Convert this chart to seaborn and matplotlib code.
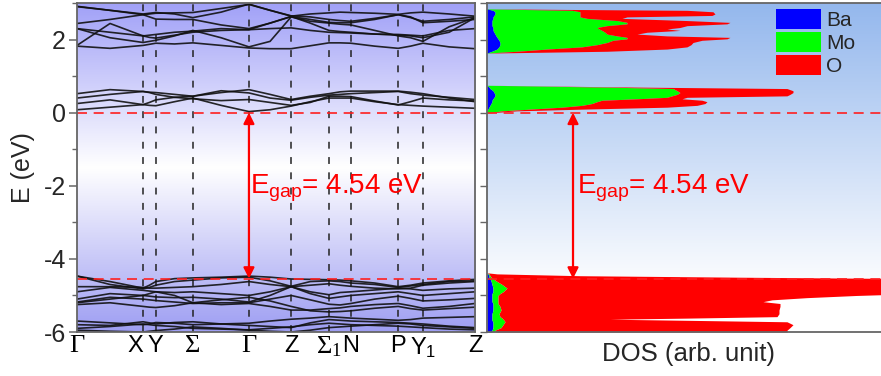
import numpy as np
import pandas as pd
import matplotlib
matplotlib.use("Agg")
import matplotlib.pyplot as plt
import seaborn as sns
from matplotlib.patches import Patch
from matplotlib.colors import LinearSegmentedColormap
from matplotlib.ticker import MultipleLocator

# ---------------- data ----------------
kpath_pos = [0.0, 0.166, 0.198, 0.291, 0.432, 0.538, 0.633, 0.688, 0.807, 0.869, 1.0]
kpath_labels = ["Γ", "X", "Y", "Σ", "Γ", "Z", r"$\mathregular{Σ_1}$", "N", "P", r"$\mathregular{Y_1}$", "Z"]
kpath_serif = [True, False, False, True, True, False, True, False, False, False, False]
kpath_ha = ["center", "right", "center", "center", "center", "center", "center", "center", "center", "center", "center"]

k_grid = [0.000, 0.083, 0.166, 0.182, 0.198, 0.245, 0.291, 0.362, 0.432, 0.485, 0.538,
          0.586, 0.633, 0.661, 0.688, 0.748, 0.807, 0.838, 0.869, 0.935, 1.000]

# conduction bands (upper manifold)
c1 = [1.82, 1.76, 1.84, 1.87, 1.90, 1.88, 1.91, 1.84, 1.77, 1.75, 1.75, 1.83, 1.91, 1.91, 1.90, 1.82, 1.76, 1.82, 1.90, 1.80, 1.75]
c2 = [1.84, 2.44, 2.10, 2.06, 2.04, 2.12, 2.20, 2.25, 2.27, 2.30, 2.32, 2.25, 2.20, 2.19, 2.18, 2.15, 2.14, 2.12, 2.10, 2.25, 2.30]
c3 = [2.30, 2.05, 1.92, 1.95, 1.98, 2.10, 2.25, 2.05, 1.80, 1.95, 2.62, 2.50, 2.45, 2.42, 2.40, 2.25, 2.10, 2.05, 1.95, 2.35, 2.60]
c4 = [2.30, 2.20, 2.10, 2.12, 2.14, 2.20, 2.23, 2.30, 2.27, 2.45, 2.63, 2.45, 2.25, 2.22, 2.20, 2.15, 2.12, 2.10, 2.05, 2.20, 2.60]
c5 = [2.44, 2.55, 2.68, 2.62, 2.56, 2.55, 2.55, 2.40, 2.30, 2.45, 2.63, 2.55, 2.47, 2.46, 2.46, 2.55, 2.68, 2.62, 2.46, 2.50, 2.55]
c6 = [2.90, 2.80, 2.68, 2.70, 2.72, 2.73, 2.74, 2.85, 2.96, 2.80, 2.64, 2.70, 2.73, 2.75, 2.74, 2.72, 2.69, 2.73, 2.75, 2.70, 2.64]
c7 = [2.91, 2.80, 2.70, 2.72, 2.74, 2.70, 2.60, 2.75, 2.97, 2.80, 2.65, 2.62, 2.55, 2.52, 2.50, 2.58, 2.68, 2.60, 2.50, 2.55, 2.62]
# bands just above the gap
n1 = [0.08, 0.15, 0.22, 0.20, 0.19, 0.30, 0.40, 0.20, 0.03, 0.08, 0.18, 0.30, 0.40, 0.40, 0.40, 0.30, 0.22, 0.20, 0.18, 0.15, 0.12]
n2 = [0.25, 0.35, 0.22, 0.28, 0.35, 0.42, 0.38, 0.33, 0.36, 0.28, 0.20, 0.28, 0.45, 0.45, 0.44, 0.32, 0.21, 0.30, 0.40, 0.35, 0.32]
n3 = [0.40, 0.50, 0.58, 0.55, 0.50, 0.42, 0.45, 0.60, 0.54, 0.40, 0.34, 0.42, 0.48, 0.50, 0.52, 0.55, 0.58, 0.52, 0.48, 0.42, 0.36]
n4 = [0.52, 0.63, 0.58, 0.56, 0.55, 0.50, 0.45, 0.55, 0.63, 0.50, 0.36, 0.45, 0.52, 0.57, 0.59, 0.59, 0.59, 0.56, 0.52, 0.40, 0.30]
# valence bands
w1 = [-4.47, -4.62, -4.80, -4.72, -4.62, -4.54, -4.52, -4.50, -4.47, -4.50, -4.55, -4.56, -4.57, -4.58, -4.60, -4.66, -4.76, -4.72, -4.66, -4.60, -4.56]
w2 = [-4.47, -4.70, -4.82, -4.78, -4.72, -4.62, -4.58, -4.52, -4.50, -4.60, -4.75, -4.62, -4.60, -4.62, -4.66, -4.70, -4.78, -4.74, -4.70, -4.62, -4.60]
w3 = [-4.76, -4.76, -4.78, -4.80, -4.80, -4.78, -4.76, -4.70, -4.62, -4.70, -4.76, -4.72, -4.68, -4.72, -4.75, -4.80, -4.82, -4.80, -4.72, -4.66, -4.62]
w4 = [-4.90, -4.78, -4.86, -4.88, -4.90, -4.92, -4.90, -4.95, -5.00, -4.90, -4.76, -4.90, -4.98, -4.92, -4.90, -4.85, -4.80, -4.82, -4.86, -4.82, -4.80]
w5 = [-5.10, -4.95, -5.00, -5.02, -5.04, -5.06, -5.05, -5.10, -5.18, -5.00, -4.76, -4.95, -5.08, -5.04, -5.00, -4.95, -4.90, -4.95, -5.00, -4.95, -4.90]
w6 = [-5.18, -5.05, -5.10, -5.12, -5.14, -5.18, -5.22, -5.20, -5.20, -5.10, -5.00, -5.12, -5.24, -5.26, -5.22, -5.10, -5.02, -5.08, -5.15, -5.12, -5.08]
w7 = [-5.20, -5.10, -5.00, -4.95, -4.90, -5.00, -5.20, -5.25, -5.22, -5.30, -5.40, -5.40, -5.36, -5.34, -5.30, -5.25, -5.22, -5.28, -5.35, -5.30, -5.22]
w8 = [-5.25, -5.20, -5.30, -5.32, -5.33, -5.28, -5.20, -5.12, -5.05, -5.15, -5.30, -5.42, -5.45, -5.44, -5.42, -5.35, -5.30, -5.36, -5.40, -5.36, -5.32]
w9 = [-5.70, -5.75, -5.80, -5.78, -5.74, -5.76, -5.80, -5.78, -5.76, -5.70, -5.65, -5.62, -5.58, -5.60, -5.62, -5.65, -5.68, -5.66, -5.62, -5.60, -5.58]
w10 = [-5.80, -5.82, -5.72, -5.75, -5.78, -5.74, -5.72, -5.78, -5.82, -5.85, -5.88, -5.75, -5.66, -5.68, -5.70, -5.72, -5.74, -5.76, -5.78, -5.84, -5.88]
w11 = [-5.90, -5.85, -5.78, -5.80, -5.82, -5.85, -5.90, -5.92, -5.94, -5.90, -5.86, -5.80, -5.76, -5.78, -5.80, -5.82, -5.84, -5.86, -5.88, -5.92, -5.94]
w12 = [-5.95, -5.98, -6.00, -5.98, -5.96, -5.92, -5.86, -5.90, -5.95, -5.98, -6.00, -5.95, -5.88, -5.86, -5.84, -5.80, -5.76, -5.78, -5.82, -5.86, -5.90]
bands = [c1, c2, c3, c4, c5, c6, c7, n1, n2, n3, n4, w1, w2, w3, w4, w5, w6, w7, w8, w9, w10, w11, w12]

e_cbm = 0.0
e_vbm = -4.54
gap_text = r"E$_{\mathrm{gap}}$= 4.54 eV"

# projected DOS (arb. unit), three energy windows
dos_e_a = [2.84, 2.80, 2.76, 2.70, 2.66, 2.62, 2.58, 2.52, 2.47, 2.43, 2.38, 2.33, 2.29, 2.25, 2.20, 2.15, 2.10, 2.06, 2.02, 1.98, 1.92, 1.86, 1.80, 1.74, 1.68, 1.63]
dos_ba_a = [0, 6, 8, 8, 7, 6, 6, 5, 5, 5, 5, 6, 6, 6, 7, 8, 9, 10, 11, 12, 13, 13, 12, 10, 5, 0]
dos_mo_a = [0, 79, 85, 85, 86, 87, 94, 125, 135, 135, 115, 104, 106, 109, 111, 112, 121, 130, 129, 114, 107, 97, 83, 50, 25, 0]
dos_o_a = [0, 115, 133, 135, 132, 47, 35, 70, 103, 100, 80, 83, 68, 78, 42, 30, 50, 103, 100, 89, 86, 94, 105, 120, 90, 0]

dos_e_b = [0.75, 0.70, 0.66, 0.60, 0.55, 0.50, 0.46, 0.42, 0.38, 0.34, 0.30, 0.25, 0.20, 0.15, 0.10, 0.05, -0.01]
dos_ba_b = [0, 2, 3, 6, 7, 8, 8, 7, 6, 5, 5, 4, 3, 2, 1, 0, 0]
dos_mo_b = [0, 118, 183, 184, 186, 182, 177, 173, 144, 110, 105, 101, 92, 73, 44, 15, 0]
dos_o_b = [0, 30, 114, 116, 113, 113, 115, 20, 45, 100, 110, 113, 115, 105, 55, 15, 0]

dos_e_c = [-4.38, -4.41, -4.46, -4.50, -4.54, -4.60, -4.70, -4.80, -4.90, -4.95, -5.00, -5.06, -5.12, -5.17, -5.22, -5.30, -5.40, -5.50, -5.58, -5.62, -5.65, -5.68, -5.72, -5.80, -5.88, -5.95, -6.00]
dos_ba_c = [0, 1, 2, 2, 3, 4, 5, 6, 6, 5, 5, 5, 5, 5, 6, 6, 6, 5, 5, 5, 5, 5, 6, 6, 6, 5, 5]
dos_mo_c = [0, 1, 1, 2, 3, 5, 10, 14, 10, 8, 6, 6, 6, 6, 5, 7, 8, 7, 8, 10, 11, 12, 12, 10, 8, 3, 3]
dos_o_c = [0, 8, 90, 246, 424, 421, 415, 410, 414, 417, 359, 309, 274, 265, 282, 280, 278, 280, 277, 185, 107, 183, 282, 290, 289, 292, 292]

elements = ["Ba", "Mo", "O"]
element_colors = ["#0000ff", "#00ff00", "#ff0000"]

# ---------------- style ----------------
sns.set_theme(style="white")
plt.rcParams["font.family"] = ["Liberation Sans", "DejaVu Sans"]
plt.rcParams["axes.unicode_minus"] = False
plt.rcParams["mathtext.fontset"] = "custom"
plt.rcParams["mathtext.rm"] = "Liberation Sans"
plt.rcParams["mathtext.it"] = "Liberation Sans:italic"
plt.rcParams["mathtext.bf"] = "Liberation Sans:bold"

fig = plt.figure(figsize=(8.81, 3.76), dpi=100)
ax1 = fig.add_axes([0.0874, 0.117, 0.4518, 0.875])
ax2 = fig.add_axes([0.5528, 0.117, 0.4574, 0.875])

ymin, ymax = -6.0, 3.0
spine_col = "#666666"

# background gradients
grad = np.linspace(0, 1, 256)[:, None]
cmap_l = LinearSegmentedColormap.from_list(
    "lg", [(0.0, (0.62, 0.62, 0.95)), (0.5, (1.0, 1.0, 1.0)), (1.0, (0.63, 0.63, 0.97))])
ax1.imshow(grad, extent=[0, 1, ymin, ymax], origin="lower", aspect="auto", cmap=cmap_l, zorder=0)
cmap_r = LinearSegmentedColormap.from_list(
    "rg", [(0.0, (1.0, 1.0, 1.0)), (0.12, (1.0, 1.0, 1.0)), (1.0, (0.58, 0.72, 0.93))])
ax2.imshow(grad, extent=[0, 403, ymin, ymax], origin="lower", aspect="auto", cmap=cmap_r, zorder=0)

# band structure
df = pd.DataFrame({
    "k": np.tile(k_grid, len(bands)),
    "E": np.concatenate([np.asarray(b, dtype=float) for b in bands]),
    "band": np.repeat(np.arange(len(bands)), len(k_grid)),
})
sns.lineplot(data=df, x="k", y="E", units="band", estimator=None, sort=False,
             color="#111111", lw=1.2, alpha=0.9, ax=ax1, legend=False, zorder=3,
             solid_joinstyle="round")

for kp in kpath_pos[1:-1]:
    ax1.axvline(kp, color="#222222", lw=1.1, ls=(0, (4.5, 5.5)), zorder=2)

for ax in (ax1, ax2):
    ax.axhline(e_cbm, color="#ff2020", lw=1.2, ls=(0, (6, 4)), zorder=4)
    ax.axhline(e_vbm, color="#ff2020", lw=1.2, ls=(0, (6, 4)), zorder=4)

# gap arrows and labels
ax1.annotate("", xy=(kpath_pos[4], e_cbm), xytext=(kpath_pos[4], e_vbm),
             arrowprops=dict(arrowstyle="<|-|>", color="red", lw=1.6,
                             mutation_scale=16, shrinkA=0, shrinkB=0), zorder=5)
ax1.text(0.435, -2.07, gap_text, color="red", fontsize=20, ha="left", va="center", zorder=6)

# DOS (stacked)
for e, ba, mo, o in [(dos_e_a, dos_ba_a, dos_mo_a, dos_o_a),
                     (dos_e_b, dos_ba_b, dos_mo_b, dos_o_b),
                     (dos_e_c, dos_ba_c, dos_mo_c, dos_o_c)]:
    e = np.asarray(e); ba = np.asarray(ba, float); mo = np.asarray(mo, float); o = np.asarray(o, float)
    ax2.fill_betweenx(e, 0, ba, color=element_colors[0], lw=0, zorder=2)
    ax2.fill_betweenx(e, ba, ba + mo, color=element_colors[1], lw=0, zorder=2)
    ax2.fill_betweenx(e, ba + mo, ba + mo + o, color=element_colors[2], lw=0, zorder=2)

ax2.annotate("", xy=(86, e_cbm), xytext=(86, e_vbm),
             arrowprops=dict(arrowstyle="<|-|>", color="red", lw=1.6,
                             mutation_scale=16, shrinkA=0, shrinkB=0), zorder=5)
ax2.text(90, -2.07, gap_text, color="red", fontsize=20, ha="left", va="center", zorder=6)

# axes cosmetics
ax1.set_xlim(0, 1)
ax1.set_ylim(ymin, ymax)
ax2.set_xlim(0, 403)
ax2.set_ylim(ymin, ymax)

ax1.set_xticks(kpath_pos)
ax1.set_xticklabels(kpath_labels)
for lab, serif, ha in zip(ax1.get_xticklabels(), kpath_serif, kpath_ha):
    lab.set_fontsize(19 if serif else 17)
    lab.set_ha(ha)
    if serif:
        lab.set_family(["Liberation Serif", "DejaVu Serif"])
ax1.tick_params(axis="x", length=0, pad=2, colors="black")
ax1.yaxis.set_major_locator(MultipleLocator(2))
ax1.yaxis.set_minor_locator(MultipleLocator(1))
ax1.tick_params(axis="y", which="major", direction="out", length=6, width=1.1,
                color=spine_col, labelsize=18, pad=2, left=True)
ax1.tick_params(axis="y", which="minor", direction="out", length=3.5, width=1.0,
                color=spine_col, left=True)
ax1.set_xlabel("")
ax1.set_ylabel("E (eV)", fontsize=18, labelpad=6)

ax2.set_xticks([])
ax2.yaxis.set_major_locator(MultipleLocator(2))
ax2.yaxis.set_minor_locator(MultipleLocator(1))
ax2.tick_params(axis="y", which="both", direction="out", length=5, width=1.0,
                color=spine_col, labelleft=False, left=True)
ax2.set_xlabel("DOS (arb. unit)", fontsize=18.5, labelpad=7)
ax2.set_ylabel("")

for ax in (ax1, ax2):
    for sp in ax.spines.values():
        sp.set_color(spine_col)
        sp.set_linewidth(1.3)
        sp.set_zorder(7)

handles = [Patch(facecolor=c, edgecolor="none", label=l) for c, l in zip(element_colors, elements)]
fig.legend(handles=handles, loc="upper left", bbox_to_anchor=(776 / 881, 1 - 9 / 376),
           frameon=False, fontsize=15, handlelength=2.15, handleheight=1.1,
           labelspacing=0.08, handletextpad=0.25, borderpad=0, borderaxespad=0)

fig.savefig("out.png", dpi=100)
